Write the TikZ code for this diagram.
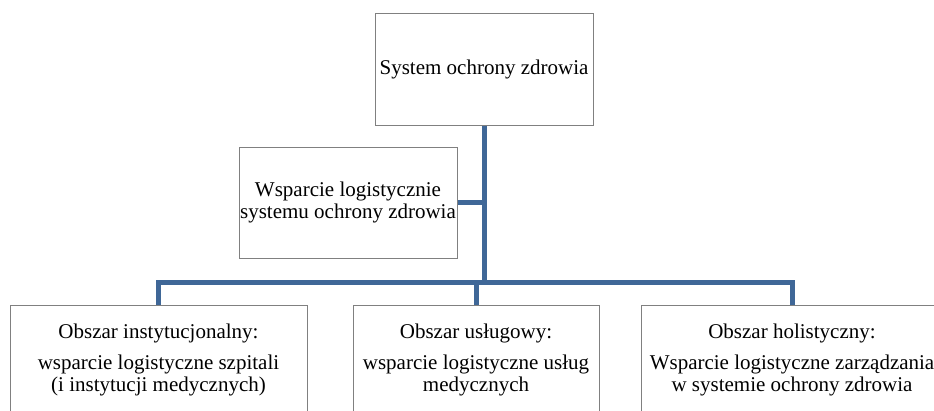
\documentclass[tikz,border=0pt]{standalone}
\usepackage{fontspec}
\setmainfont{Liberation Serif}
\definecolor{linia}{HTML}{3F6797}

\begin{document}
\begin{tikzpicture}[x=1pt, y=-1pt,
        box/.style={draw=gray, line width=1pt, fill=white, align=center, inner sep=1pt,
            font=\fontsize{21}{22}\selectfont},
        link/.style={linia, line width=5pt}]
        \useasboundingbox (0,0) rectangle (934,410);
        \clip (0,0) rectangle (934,410);

        % Prostokaty
        \node[box, minimum width=218pt, minimum height=112pt] (sys) at (484,69) {System ochrony zdrowia};
        \node[box, minimum width=218pt, minimum height=111pt] (wsp) at (348,202.5) {Wsparcie logistycznie\\systemu ochrony zdrowia};
        \node[box, minimum width=297pt, minimum height=110pt] (inst) at (158.5,360) {Obszar instytucjonalny:\\[9pt]wsparcie logistyczne szpitali\\(i instytucji medycznych)};
        \node[box, minimum width=246pt, minimum height=110pt] (usl) at (476,360) {Obszar usługowy:\\[9pt]wsparcie logistyczne usług\\medycznych};
        \node[box, minimum width=302pt, minimum height=110pt] (hol) at (792,360) {Obszar holistyczny:\\[9pt]Wsparcie logistyczne zarządzania\\w systemie ochrony zdrowia};

        % Linie
        \coordinate (rozw) at (485,282);
        \draw[link] (sys.south) -- (sys.south |- rozw);
        \draw[link] (wsp.east) -- (wsp.east -| rozw);
        \draw[link] (inst.north) |- (rozw) -| (hol.north);
        \draw[link] (usl.north) -- (usl.north |- rozw);
    \end{tikzpicture}
\end{document}
